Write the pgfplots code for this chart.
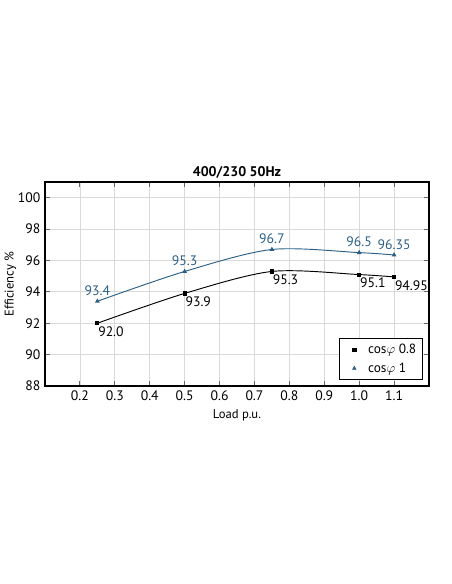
\documentclass[border=0pt]{standalone}
\usepackage{pgfplots}
\pgfplotsset{compat=1.18}
\usepackage{fontspec}
\setmainfont{PT Sans}
\definecolor{effblue}{HTML}{2B5F86}
\definecolor{gridgray}{HTML}{D9D9D9}

\begin{document}
\begin{tikzpicture}
\begin{axis}[
    scale only axis,
    width=288pt, height=153pt,
    xmin=0.1, xmax=1.2,
    ymin=88, ymax=101,
    xtick={0.2,0.3,0.4,0.5,0.6,0.7,0.8,0.9,1.0,1.1},
    xticklabels={0.2,0.3,0.4,0.5,0.6,0.7,0.8,0.9,1.0,1.1},
    ytick={88,90,92,94,96,98,100},
    /pgf/number format/assume math mode=true,
    grid=major,
    major grid style={gridgray, line width=0.6pt},
    tick align=inside,
    major tick length=3.75pt,
    tick style={gray!80!black, line width=0.8pt},
    axis line style={line width=1.1pt},
    ticklabel style={font=\fontsize{10.3}{12}\selectfont},
    title={\textbf{400/230 50Hz}},
    title style={font=\fontsize{10.5}{12}\selectfont, yshift=-7pt},
    xlabel={Load p.u.},
    ylabel={Efficiency \%},
    label style={font=\fontsize{9.5}{12}\selectfont},
    y label style={at={(axis description cs:-0.09,0.5)}, anchor=center},
    legend style={at={(0.985,0.03)}, anchor=south east, draw=black,
        line width=0.6pt, font=\fontsize{10}{12}\selectfont,
        row sep=1.5pt, inner xsep=3pt, inner ysep=2pt},
    legend cell align=left,
    legend image code/.code={\path (-8pt,0pt) (8pt,0pt);
        \draw[#1] plot coordinates {(0pt,0pt)};},
    nodes near coords,
    point meta=explicit symbolic,
    every node near coord/.append style={font=\fontsize{10.3}{12}\selectfont},
]
\addlegendimage{only marks, mark=square*, mark size=1.2pt, black}
\addlegendentry{cos$\varphi$ 0.8}
\addlegendimage{only marks, mark=triangle*, mark size=1.4pt, effblue}
\addlegendentry{cos$\varphi$ 1}

\addplot[forget plot, smooth, black, line width=0.7pt, mark=square*,
    mark size=1.2pt,
    every node near coord/.append style={anchor=north west, xshift=-3pt, yshift=1pt, black}]
    coordinates {
    (0.25,92.0) [92.0]
    (0.5,93.9) [93.9]
    (0.75,95.3) [95.3]
    (1.0,95.1) [95.1]
    (1.1,94.95) [94.95]
};
\addplot[forget plot, smooth, effblue, line width=0.7pt, mark=triangle*,
    mark size=1.4pt,
    every node near coord/.append style={anchor=south, yshift=0.5pt, effblue}]
    coordinates {
    (0.25,93.4) [93.4]
    (0.5,95.3) [95.3]
    (0.75,96.7) [96.7]
    (1.0,96.5) [96.5]
    (1.1,96.35) [96.35]
};
\end{axis}
\path (-33.75pt,-148.5pt) rectangle (305.25pt,289.5pt);
\end{tikzpicture}
\end{document}
